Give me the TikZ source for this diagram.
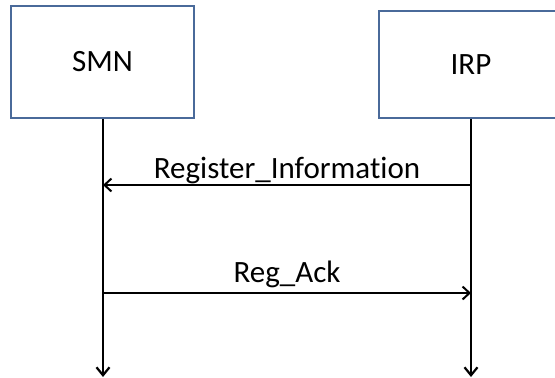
\documentclass[tikz,border=0pt]{standalone}
\usepackage{fontspec}
\setmainfont{Carlito}[Ligatures=NoCommon]
\usetikzlibrary{arrows.meta}
\definecolor{boxline}{HTML}{4A6A9A}
\tikzset{
  entity/.style={draw=boxline, line width=2pt, fill=white, inner sep=0pt,
    font=\fontsize{31}{37}\selectfont},
  lifeline/.style={line width=2.6pt, -{Straight Barb[length=8pt,width=13pt,line width=2.2pt]}},
  message/.style={line width=2.2pt, -{Straight Barb[length=7pt,width=13pt,line width=2pt]}},
  msglabel/.style={anchor=base, inner sep=0pt, font=\fontsize{31}{37}\selectfont},
}
\begin{document}
\begin{tikzpicture}[x=1pt,y=-1pt]
  \useasboundingbox (0,0) rectangle (555,378);
  \clip (0,0) rectangle (555,378);

  % participants
  \node[entity, minimum width=183pt, minimum height=112pt] (smn) at (102.5,62) {SMN};
  \node[entity, minimum width=184pt, minimum height=107pt] (irp) at (471,64.5) {IRP};

  % lifeline ends
  \coordinate (smnEnd) at (103,377);
  \coordinate (irpEnd) at (471,377);
  \draw[lifeline] (smn.south -| smnEnd) -- (smnEnd);
  \draw[lifeline] (irp.south -| irpEnd) -- (irpEnd);

  % message points on the lifelines
  \coordinate (smnA) at (103,185);
  \coordinate (irpA) at (471,185);
  \coordinate (smnB) at (103,293);
  \coordinate (irpB) at (471,293);

  \draw[message] (irpA) -- node[msglabel, yshift=7pt] (m1) {Register\_Information} (smnA);
  \draw[message] (smnB) -- node[msglabel, yshift=11pt] (m2) {Reg\_Ack} (irpB);
\end{tikzpicture}
\end{document}
